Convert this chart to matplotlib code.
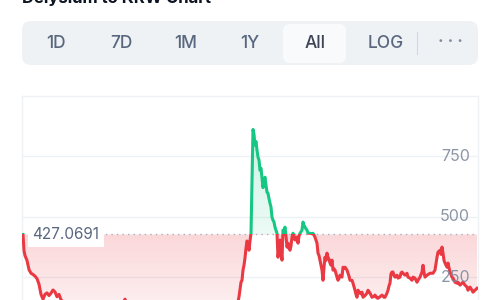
import numpy as np
import matplotlib
matplotlib.use("Agg")
import matplotlib.pyplot as plt
from matplotlib.colors import to_rgb
from matplotlib.patches import FancyBboxPatch, Rectangle
from matplotlib.transforms import IdentityTransform, blended_transform_factory

plt.rcParams["font.family"] = ["Inter", "DejaVu Sans"]

TITLE = "Delysium to KRW Chart"
RANGES = ["1D", "7D", "1M", "1Y", "All", "LOG"]
ACTIVE = "All"
BASE_PRICE = 427.0691
TICKS = [250, 500, 750]

days = [
    0, 1, 2, 4, 6, 8, 10, 12, 14, 16, 18, 20, 22, 24, 26, 28, 30, 32, 34, 36, 38, 40,
    43, 47, 52, 57, 62, 67, 72, 77, 82, 87, 92, 97, 100, 102, 104, 107, 112, 117, 122,
    127, 132, 137, 142, 147, 152, 157, 162, 167, 172, 177, 182, 187, 192, 197, 202, 207,
    212, 215, 216, 218, 219, 220, 221, 222, 223, 224, 225, 226, 227, 228, 229, 230, 231,
    232, 233, 234, 235, 236, 237, 238, 239, 240, 241, 242, 243, 244, 245, 246, 247, 248,
    249, 250, 251, 252, 253, 254, 255, 256, 257, 258, 259, 260, 261, 262, 263, 264, 265,
    266, 267, 268, 269, 270, 271, 272, 273, 274, 275, 276, 277, 279, 280, 281, 282, 283,
    284, 285, 287, 289, 290, 292, 294, 295, 296, 297, 298, 299, 300, 301, 302, 303, 304,
    305, 306, 307, 308, 309, 310, 311, 312, 313, 314, 315, 316, 317, 318, 319, 320, 321,
    322, 324, 325, 326, 327, 329, 330, 332, 333, 334, 335, 337, 338, 339, 340, 342, 344,
    345, 347, 349, 351, 352, 354, 355, 357, 359, 361, 362, 364, 365, 366, 367, 368, 369,
    370, 371, 372, 374, 375, 377, 378, 379, 380, 382, 384, 385, 387, 389, 390, 392, 394,
    395, 397, 399, 400, 401, 402, 404, 407, 410, 412, 414, 415, 417, 418, 419, 420, 421,
    422, 424, 425, 427, 429, 430, 432, 434, 435, 437, 439, 440, 442, 444, 445, 447, 449,
    450, 452, 454,
]
price = [
    427, 360, 340, 320, 282, 267, 262, 255, 245, 222, 180, 160, 180, 186, 175, 185, 198,
    190, 170, 180, 158, 148, 135, 120, 128, 112, 118, 105, 115, 100, 110, 120, 112, 130,
    140, 160, 138, 125, 118, 105, 112, 98, 108, 100, 95, 105, 98, 90, 100, 95, 105, 98,
    110, 100, 108, 115, 105, 118, 135, 150, 170, 230, 238, 280, 300, 330, 370, 400, 390,
    362, 400, 432, 640, 860, 840, 795, 810, 775, 746, 734, 692, 700, 659, 620, 650, 663,
    630, 601, 597, 575, 556, 540, 498, 486, 478, 457, 445, 432, 333, 370, 404, 360, 321,
    445, 440, 457, 420, 375, 391, 370, 362, 380, 416, 432, 420, 404, 410, 416, 391, 420,
    432, 445, 478, 465, 457, 450, 445, 432, 432, 430, 432, 416, 391, 350, 340, 321, 300,
    280, 238, 290, 333, 320, 350, 333, 325, 309, 300, 321, 280, 285, 280, 265, 251, 238,
    245, 259, 255, 251, 292, 288, 292, 280, 267, 255, 238, 238, 226, 197, 180, 168, 197,
    185, 182, 189, 168, 175, 185, 197, 185, 168, 172, 177, 165, 164, 170, 177, 168, 168,
    185, 197, 215, 226, 265, 272, 272, 258, 251, 259, 247, 251, 268, 272, 267, 259, 267,
    251, 247, 238, 251, 247, 230, 238, 251, 272, 300, 270, 251, 259, 267, 267, 280, 333,
    354, 362, 345, 375, 350, 320, 309, 292, 309, 272, 251, 247, 230, 226, 230, 218, 226,
    230, 218, 210, 197, 210, 197, 189, 197, 205,
]

RED = "#ea3943"
GREEN = "#16c784"
GRID = "#eff2f5"
TEXT = "#58667e"
LABEL = "#808a9d"

fig = plt.figure(figsize=(5, 3), dpi=100)
H = 300.0

# title (cut off at the top in the reference)
fig.text(22 / 500, 1 - 2.5 / H, TITLE, fontsize=12, fontweight="bold",
         color="#0d1421", va="baseline", ha="left")

# range selector bar, drawn in pixels
px = IdentityTransform()
fig.patches.append(FancyBboxPatch((22, H - 65), 456, 44, boxstyle="round,pad=0,rounding_size=9",
                                  fc="#eff2f5", ec="none", transform=px, figure=fig))
fig.patches.append(FancyBboxPatch((283, H - 63), 63, 39, boxstyle="round,pad=0,rounding_size=7",
                                  fc="#f9fafc", ec="none", transform=px, figure=fig))
fig.lines.append(plt.Line2D([417, 417], [H - 54, H - 32], color="#cfd6e4", lw=0.8,
                            transform=px, figure=fig))
label_x = [56, 121, 186, 250, 315, 386]
for name, lx in zip(RANGES, label_x):
    fig.text(lx / 500, 1 - 43 / H, name, fontsize=12.5, ha="center", va="center",
             fontweight="medium", color="#3d4556" if name == ACTIVE else TEXT)
fig.text(450 / 500, 1 - 42 / H, "· · ·", fontsize=12, ha="center", va="center",
         color=LABEL, fontweight="bold")

# chart axes; bottom part falls outside the 300 px canvas like the reference
bottom_px = 338.0
top_px = 95.5
ax = fig.add_axes([21.5 / 500, (H - bottom_px) / H, (478 - 21.5) / 500, (bottom_px - top_px) / H])
x0, x1 = -1.5, 455
ax.set_xlim(x0, x1)
ax.set_ylim(0, 1000)
for side in ["top", "left", "right", "bottom"]:
    ax.spines[side].set_color(GRID)
    ax.spines[side].set_linewidth(1)
ax.set_xticks([])
ax.set_yticks(TICKS)
ax.tick_params(axis="y", length=0, labelleft=False)
ax.grid(axis="y", color=GRID, lw=1)
ax.set_axisbelow(True)

# gradient fills between price and baseline
poly = ax.fill_between(days, price, BASE_PRICE, facecolor="none", edgecolor="none")
clip = poly.get_paths()[0]


def gradient(color, a_top, a_bottom, y_bottom, y_top):
    rgba = np.zeros((256, 1, 4))
    rgba[..., :3] = to_rgb(color)
    rgba[:, 0, 3] = np.linspace(a_top, a_bottom, 256)
    im = ax.imshow(rgba, extent=[x0, x1, y_bottom, y_top], origin="upper",
                   aspect="auto", zorder=1, interpolation="bilinear")
    im.set_clip_path(clip, transform=ax.transData)


gradient(RED, 0.2, 0.03, 0, BASE_PRICE)
gradient(GREEN, 0.24, 0.08, BASE_PRICE, 900)
ax.set_xlim(x0, x1)
ax.set_ylim(0, 1000)

# price line: red below baseline, green above
for color, y_lo, y_hi in [(RED, -100, BASE_PRICE), (GREEN, BASE_PRICE, 1100)]:
    line, = ax.plot(days, price, color=color, lw=2.2, zorder=4, solid_joinstyle="round")
    rect = Rectangle((x0, y_lo), x1 - x0, y_hi - y_lo, transform=ax.transData)
    line.set_clip_path(rect)

ax.axhline(BASE_PRICE, color="#a6b0c3", lw=1, linestyle=(0, (1, 3)), zorder=2)

# baseline label
ax.text(9.5, BASE_PRICE, f"{BASE_PRICE:.4f}", fontsize=11, color=TEXT, ha="left",
        va="center", zorder=5,
        bbox=dict(boxstyle="square,pad=0.3", fc="white", ec="none"))

# right-side tick labels inside the plot
trans = blended_transform_factory(ax.transAxes, ax.transData)
for t in TICKS:
    ax.text(1 - 8 / 456.5, t, str(t), transform=trans, ha="right", va="center",
            fontsize=11.5, color=LABEL, zorder=5, alpha=0.9)

fig.savefig("out.png", dpi=100)
